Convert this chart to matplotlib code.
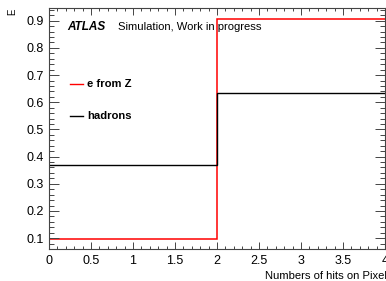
import matplotlib
matplotlib.use("Agg")
import matplotlib.pyplot as plt
from matplotlib.ticker import MultipleLocator
import numpy as np

bin_edges = [0, 2, 4]
e_from_Z = [0.098, 0.906]
hadrons = [0.368, 0.633]
series_labels = ["e from Z", "hadrons"]
x_label = "Numbers of hits on Pixel"
y_label = "E"

plt.rcParams['font.family'] = ['Liberation Sans', 'DejaVu Sans']

fig = plt.figure(figsize=(3.86, 2.81), dpi=100)
ax = fig.add_axes([49/386, 1 - 249/281, 336/386, (249 - 7.7)/281])

ax.stairs(e_from_Z, bin_edges, color='#ff0000', lw=1.1, baseline=None)
ax.stairs(hadrons, bin_edges, color='black', lw=1.0, baseline=None)

ax.set_xlim(0, 4)
ax.set_ylim(0.06, 0.948)
ax.xaxis.set_minor_locator(MultipleLocator(0.1))
ax.yaxis.set_minor_locator(MultipleLocator(0.02))
ax.set_xticks(np.arange(0, 4.01, 0.5))
ax.set_xticklabels(["0", "0.5", "1", "1.5", "2", "2.5", "3", "3.5", "4"])
ax.set_yticks(np.arange(0.1, 0.95, 0.1))
ax.set_yticklabels(["0.1", "0.2", "0.3", "0.4", "0.5", "0.6", "0.7", "0.8", "0.9"])

ax.tick_params(axis='both', which='both', direction='in', top=True, right=True,
               color='#444444', width=0.7, labelsize=9)
ax.tick_params(axis='y', which='major', length=7.2)
ax.tick_params(axis='y', which='minor', length=3.6)
ax.tick_params(axis='x', which='major', length=5.0)
ax.tick_params(axis='x', which='minor', length=2.5)
ax.tick_params(axis='x', pad=4)
for s in ax.spines.values():
    s.set_linewidth(0.8)
    s.set_color('#444444')

fig.text(265/386, 1 - 276/281, x_label, ha='left', va='center', fontsize=8.1)
fig.text(12/386, 1 - 12/281, y_label, ha='center', va='center', fontsize=7, rotation=90)

ax.text(0.055, 0.92, "ATLAS", transform=ax.transAxes, fontsize=8.5, fontweight='bold',
        fontstyle='italic', va='center', ha='left')
ax.text(0.205, 0.92, "Simulation, Work in progress", transform=ax.transAxes, fontsize=8.1,
        va='center', ha='left')

ax.plot([0.245, 0.41], [0.667, 0.667], color='#ff0000', lw=1.0)
ax.text(0.455, 0.667, series_labels[0], fontsize=8.1, fontweight='bold', va='center', ha='left')
ax.plot([0.245, 0.41], [0.551, 0.551], color='black', lw=1.0)
ax.text(0.455, 0.551, series_labels[1], fontsize=8.1, fontweight='bold', va='center', ha='left')

fig.savefig("out.png", dpi=100)
